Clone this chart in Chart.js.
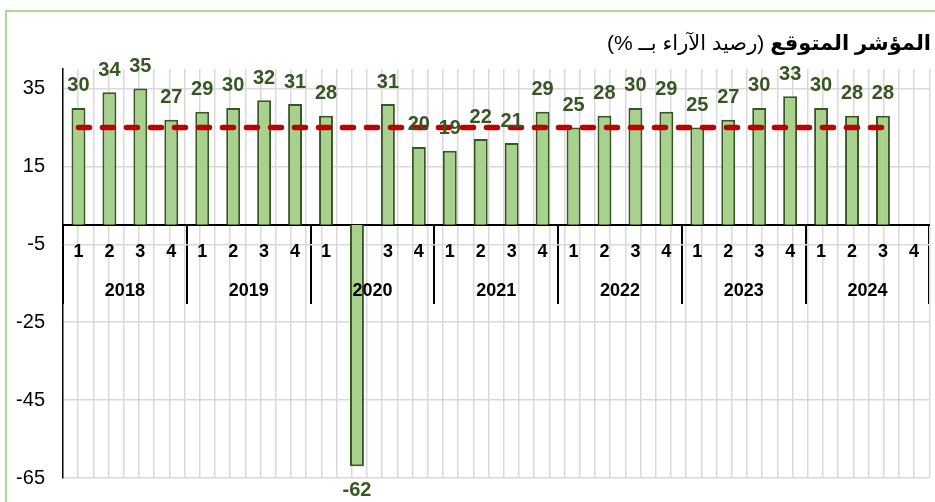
<!DOCTYPE html>
<html>
<head>
<meta charset="utf-8">
<script src="https://cdn.jsdelivr.net/npm/chart.js@4.4.0/dist/chart.umd.min.js"></script>
<style>
  html, body { margin: 0; padding: 0; background: #fff; }
  #wrap { position: relative; width: 935px; height: 502px; overflow: hidden; }
  #frame { position: absolute; left: 5px; top: 10px; width: 960px; height: 540px; border: 2px solid #b1d697; }
  #title { position: absolute; right: 4px; top: 31px; direction: rtl; white-space: nowrap;
           font-family: "Liberation Sans", "DejaVu Sans", sans-serif; font-size: 21px; color: #000; }
  #title b { font-weight: bold; }
  canvas { position: absolute; left: 0; top: 0; }
</style>
</head>
<body>
<div id="wrap">
  <div id="frame"></div>
  <canvas id="chart" width="935" height="502"></canvas>
  <div id="title"><b>المؤشر المتوقع</b> (رصيد الآراء بــ %)</div>
</div>
<script>
// data
const years = ['2018', '2019', '2020', '2021', '2022', '2023', '2024'];
const quarterNames = ['1', '2', '3', '4'];
const values = [30, 34, 35, 27,  29, 30, 32, 31,  28, -62, 31, 20,  19, 22, 21, 29,
                25, 28, 30, 29,  25, 27, 30, 33,  30, 28, 28, null];
const average = [25, 25, 25, 25,  25, 25, 25, 25,  25, 25, 25, 25,  25, 25, 25, 25,
                 25, 25, 25, 25,  25, 25, 25, 25,  25, 25, 25, null];
const yTicks = [-65, -45, -25, -5, 15, 35];

// one label per quarter
const quarterLabels = [];
years.forEach(function () { quarterNames.forEach(function (q) { quarterLabels.push(q); }); });

const FONT = '"Liberation Sans", Arial, sans-serif';
const LABEL_GREEN = '#375623';

// value labels above / below the bars
const barLabels = {
  id: 'barLabels',
  afterDatasetsDraw(chart) {
    const ctx = chart.ctx;
    const meta = chart.getDatasetMeta(0);
    ctx.save();
    ctx.font = 'bold 20px ' + FONT;
    ctx.fillStyle = LABEL_GREEN;
    ctx.textAlign = 'center';
    ctx.textBaseline = 'middle';
    meta.data.forEach(function (bar, i) {
      const v = values[i];
      if (v === null) return;
      const y = v >= 0 ? bar.y - 22 : bar.y + 24;
      ctx.fillText(String(v), bar.x, y);
    });
    ctx.restore();
  }
};

const ctx = document.getElementById('chart').getContext('2d');
new Chart(ctx, {
  type: 'bar',
  data: {
    labels: quarterLabels,
    datasets: [{
      type: 'bar',
      data: values,
      backgroundColor: '#a9d18e',
      borderColor: '#375623',
      borderWidth: 2,
      barPercentage: 1,
      categoryPercentage: 0.45,
      order: 1
    }, {
      type: 'line',
      data: average,
      borderColor: '#c00000',
      borderWidth: 5.5,
      borderDash: [11, 13],
      borderCapStyle: 'round',
      pointRadius: 0,
      fill: false,
      order: 0
    }]
  },
  options: {
    responsive: false,
    animation: false,
    layout: { padding: { top: 69, right: 5, bottom: 24, left: 0 } },
    plugins: { legend: { display: false }, tooltip: { enabled: false } },
    scales: {
      x: {
        position: { y: 0 },
        offset: true,
        grid: { display: false, drawTicks: false },
        border: { display: true, color: '#000', width: 2 },
        ticks: { color: '#000', font: { family: FONT, size: 18, weight: 'bold' }, padding: 16, maxRotation: 0, autoSkip: false }
      },
      xYears: {
        type: 'category',
        labels: years,
        position: { y: 0 },
        offset: true,
        grid: { display: true, drawOnChartArea: false, drawTicks: true, tickLength: 79, color: '#000', lineWidth: 2 },
        border: { display: false },
        ticks: { z: 1, color: '#000', font: { family: FONT, size: 18, weight: 'bold' }, padding: -24, maxRotation: 0, autoSkip: false }
      },
      xGrid: {
        type: 'linear',
        position: { y: 0 },
        min: 0,
        max: 28,
        ticks: { display: false, stepSize: 0.5 },
        grid: {
          drawTicks: false,
          lineWidth: 1.5,
          color: function (c) { return c.tick && c.tick.value === 0 ? 'rgba(0,0,0,0)' : '#d9d9d9'; }
        },
        border: { display: false }
      },
      y: {
        min: -65,
        max: 40,
        afterBuildTicks: function (scale) { scale.ticks = yTicks.map(function (v) { return { value: v }; }); },
        afterFit: function (scale) {
          scale.width = 63;
          scale.paddingTop = 0;
          scale.paddingBottom = 0;
        },
        grid: { color: '#d9d9d9', lineWidth: 1.5, drawTicks: false },
        border: { display: true, color: '#000', width: 1.5 },
        ticks: { color: '#000', font: { family: FONT, size: 20 }, padding: 18 }
      }
    }
  },
  plugins: [barLabels]
});
</script>
</body>
</html>
